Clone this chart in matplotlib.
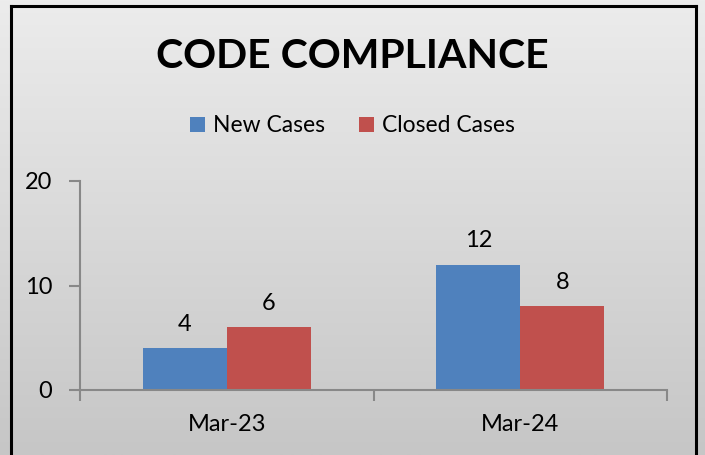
import numpy as np
import matplotlib.pyplot as plt
from matplotlib.colors import LinearSegmentedColormap
from matplotlib.lines import Line2D

# data
categories = ["Mar-23", "Mar-24"]
new_cases = [4, 12]
closed_cases = [6, 8]
y_ticks = [0, 10, 20]

BLUE = "#4f81bd"
RED = "#c0504d"
AXIS = "#888888"
FONT = ["Lato", "DejaVu Sans"]

fig = plt.figure(figsize=(7.05, 4.55), dpi=100)

# grey vertical gradient background
bg = fig.add_axes([0, 0, 1, 1], zorder=-10)
grad = np.linspace(0, 1, 256).reshape(-1, 1)
bg.imshow(grad, aspect="auto", cmap=LinearSegmentedColormap.from_list("g", ["#ececec", "#c6c6c6"]),
          extent=[0, 1, 0, 1], origin="upper")
bg.set_xlim(0, 1)
bg.set_ylim(0, 1)
bg.axis("off")

# chart frame (bottom edge falls outside the image)
W, H = 705, 455
fx0, fx1, fy0 = 10.5 / W, 695.5 / W, 1 - 5.5 / H
for xs, ys in [([fx0, fx0], [-0.1, fy0]), ([fx1, fx1], [-0.1, fy0]), ([fx0, fx1], [fy0, fy0])]:
    fig.add_artist(Line2D(xs, ys, color="black", lw=2.2, transform=fig.transFigure))

ax = fig.add_axes([80 / W, 1 - 390 / H, (667 - 80) / W, (390 - 181) / H])
ax.set_facecolor("none")

x = np.arange(len(categories))
w = 0.286
b1 = ax.bar(x - w / 2, new_cases, w, color=BLUE, label="New Cases")
b2 = ax.bar(x + w / 2, closed_cases, w, color=RED, label="Closed Cases")
for bars in (b1, b2):
    for r in bars:
        ax.text(r.get_x() + r.get_width() / 2, r.get_height() + 1.3, f"{int(r.get_height())}",
                ha="center", va="bottom", fontsize=17, family=FONT)

ax.set_xlim(-0.5, len(categories) - 0.5)
ax.set_ylim(0, 20)
ax.set_yticks(y_ticks)
ax.set_xticks(np.arange(len(categories) + 1) - 0.5, minor=False)
ax.set_xticklabels([])
ax.set_xticks(x, minor=True)
ax.set_xticklabels(categories, minor=True)
ax.tick_params(axis="x", which="minor", length=0, pad=17, labelsize=17)
ax.tick_params(axis="x", which="major", length=8, color=AXIS, width=1.5)
ax.tick_params(axis="y", length=8, color=AXIS, width=1.5, labelsize=17, pad=12)
for lab in ax.get_xticklabels(minor=True) + ax.get_yticklabels():
    lab.set_family(FONT)
for s in ("top", "right"):
    ax.spines[s].set_visible(False)
for s in ("left", "bottom"):
    ax.spines[s].set_color(AXIS)
    ax.spines[s].set_linewidth(1.5)

fig.text(0.5, 1 - 57 / H, "CODE COMPLIANCE", ha="center", va="center",
         fontsize=29.5, fontweight="bold", family=FONT)
fig.legend(handles=[b1, b2], loc="center", bbox_to_anchor=(0.5, 1 - 126 / H), ncol=2,
           frameon=False, prop={"family": FONT, "size": 16.5}, handlelength=0.65,
           handleheight=0.65, handletextpad=0.35, columnspacing=1.5)

fig.savefig("out.png", dpi=100)
